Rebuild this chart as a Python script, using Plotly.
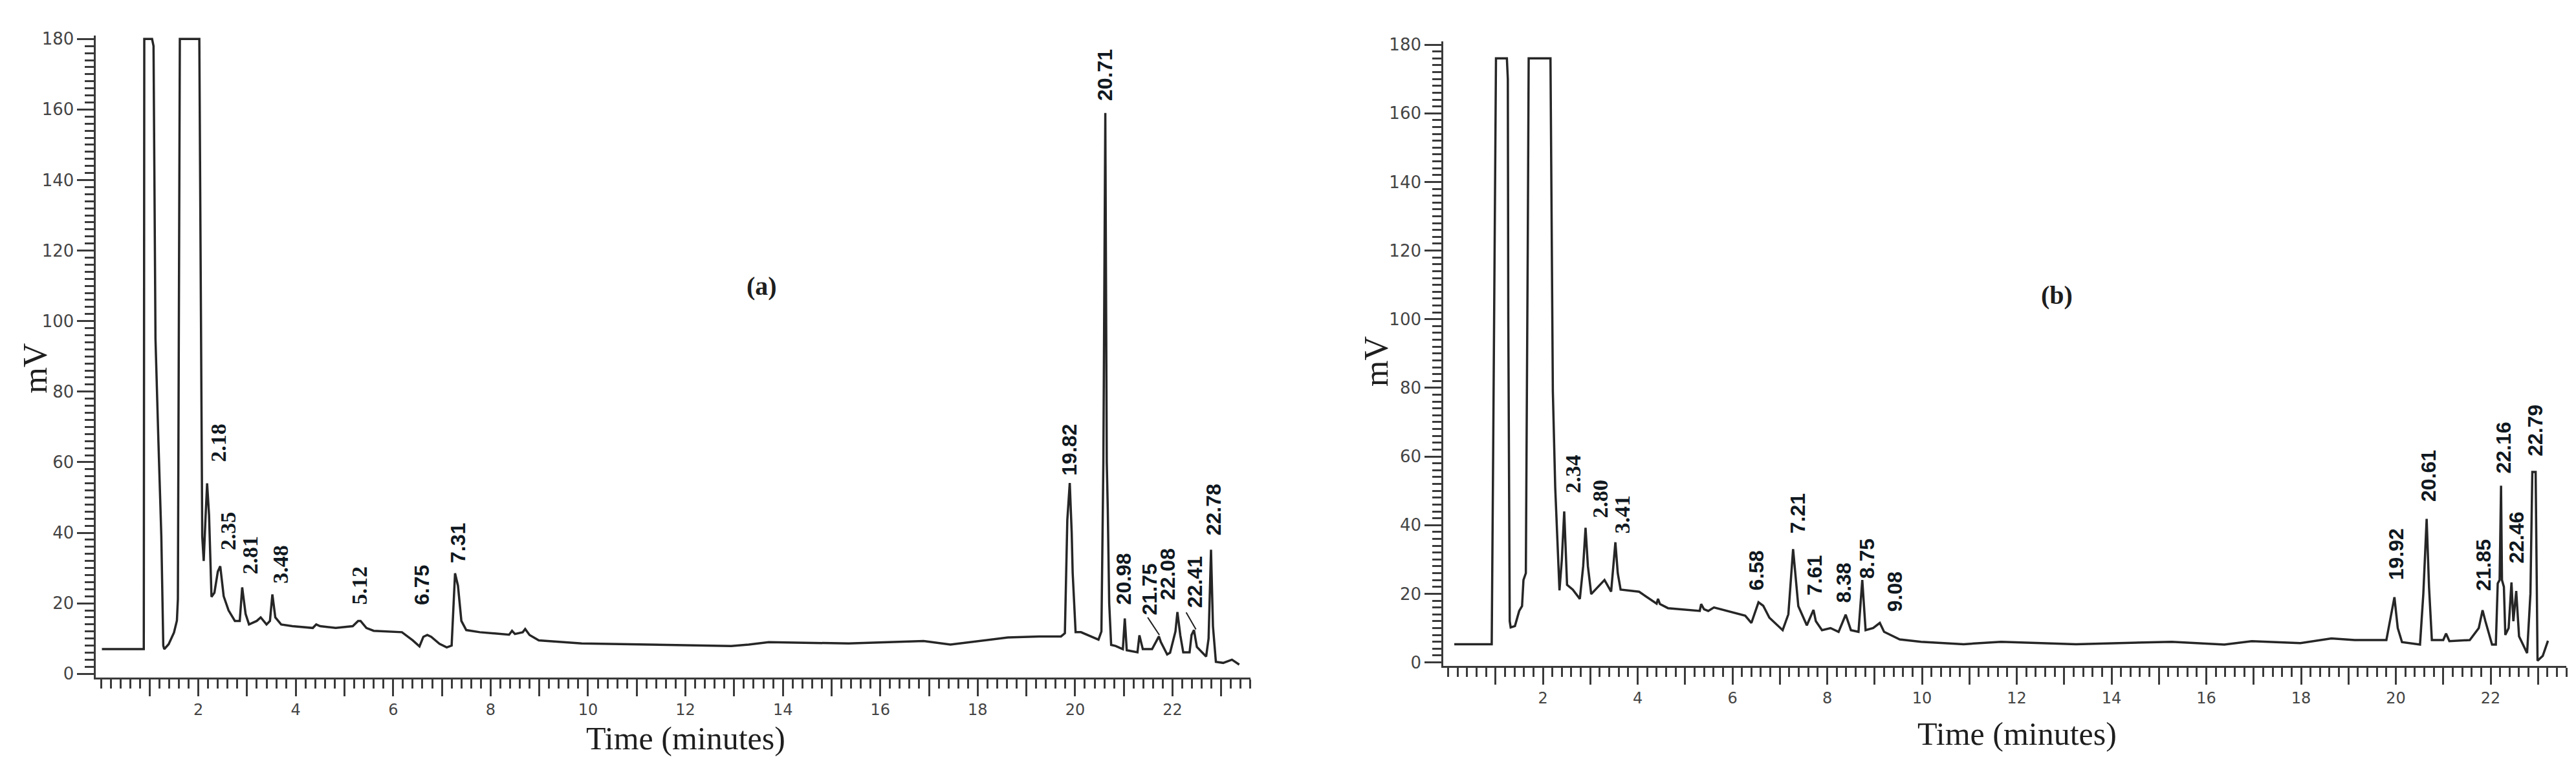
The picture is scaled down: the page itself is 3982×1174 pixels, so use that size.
import plotly.graph_objects as go

# chromatogram (a): retention time (min) and signal (mV)
time_a = [0.02, 0.88, 0.89, 1.05, 1.08, 1.12, 1.18, 1.24, 1.28, 1.30, 1.39, 1.50,
          1.56, 1.58, 1.62, 2.02, 2.08, 2.11, 2.15, 2.18, 2.22, 2.27, 2.33, 2.40,
          2.45, 2.52, 2.62, 2.75, 2.85, 2.90, 2.97, 3.04, 3.20, 3.28, 3.40, 3.47,
          3.52, 3.58, 3.70, 3.93, 4.35, 4.42, 4.50, 4.82, 5.17, 5.28, 5.33, 5.45,
          5.60, 6.18, 6.40, 6.54, 6.62, 6.70, 6.78, 6.95, 7.10, 7.20, 7.27, 7.33,
          7.40, 7.50, 7.78, 8.38, 8.44, 8.50, 8.66, 8.71, 8.80, 8.99, 9.87, 10.96,
          12.94, 13.30, 13.71, 15.35, 16.89, 17.44, 18.00, 18.62, 19.26, 19.71, 19.79, 19.84,
          19.89, 19.93, 19.95, 20.01, 20.12, 20.48, 20.54, 20.58, 20.62, 20.65, 20.67, 20.70,
          20.74, 20.83, 20.98, 21.02, 21.06, 21.28, 21.32, 21.39, 21.58, 21.72, 21.76, 21.89,
          21.95, 22.06, 22.10, 22.16, 22.22, 22.35, 22.39, 22.44, 22.50, 22.69, 22.74, 22.79,
          22.83, 22.89, 23.04, 23.22, 23.37]
mv_a = [7.0, 7.0, 180, 180, 178, 95, 66, 39, 8, 7.0, 8.4, 11.7,
        15.1, 21.2, 180, 180, 39, 32, 45, 54, 45, 21.8, 23, 29,
        30.5, 22, 18, 15, 15, 24.5, 17, 14, 15, 16, 14, 15,
        22.5, 16, 14, 13.5, 13, 14, 13.5, 13, 13.5, 15, 15, 13,
        12.2, 11.8, 9.5, 7.8, 10.5, 11, 10.5, 8.5, 7.5, 8, 28.5, 25,
        15, 12.4, 11.8, 11.1, 12.2, 11.3, 11.8, 12.7, 11, 9.5, 8.6, 8.3,
        7.9, 8.3, 9.0, 8.6, 9.3, 8.3, 9.3, 10.3, 10.6, 10.6, 11.5, 43.6,
        54.1, 40, 28.6, 11.8, 11.8, 9.7, 12, 60, 159, 60, 47, 20,
        8.2, 7.9, 7.0, 15.7, 6.7, 6.1, 10.9, 7.0, 7.0, 10.6, 9, 5.5,
        6, 12, 17.5, 10.9, 6.1, 6.1, 11, 12.4, 7.6, 4.9, 10, 35.2,
        13.5, 3.4, 3.1, 4.0, 2.6]

# chromatogram (b)
time_b = [0.13, 0.92, 0.95, 1.01, 1.24, 1.26, 1.27, 1.29, 1.30, 1.32, 1.41, 1.50,
          1.56, 1.59, 1.64, 1.68, 1.70, 2.16, 2.18, 2.21, 2.26, 2.32, 2.35, 2.40,
          2.45, 2.51, 2.63, 2.78, 2.85, 2.90, 2.95, 3.02, 3.17, 3.30, 3.44, 3.50,
          3.53, 3.58, 3.64, 4.03, 4.40, 4.43, 4.47, 4.64, 5.31, 5.34, 5.40, 5.49,
          5.61, 6.27, 6.40, 6.55, 6.65, 6.78, 7.06, 7.18, 7.28, 7.39, 7.57, 7.71,
          7.76, 7.89, 8.07, 8.24, 8.39, 8.50, 8.66, 8.74, 8.81, 8.97, 9.11, 9.20,
          9.53, 9.98, 10.88, 11.67, 13.25, 15.27, 16.38, 16.96, 17.98, 18.64, 19.13, 19.80,
          19.90, 19.97, 20.04, 20.13, 20.51, 20.58, 20.65, 20.70, 20.76, 21.00, 21.06, 21.13,
          21.56, 21.61, 21.75, 21.83, 21.89, 22.03, 22.11, 22.15, 22.19, 22.22, 22.24, 22.28,
          22.31, 22.38, 22.44, 22.48, 22.54, 22.60, 22.77, 22.84, 22.88, 22.95, 22.98, 22.99,
          23.10, 23.21]
mv_b = [5.3, 5.3, 60, 176, 176, 170, 100, 40, 12, 10.2, 10.6, 15,
        16.4, 24, 26, 120, 176, 176, 126, 79, 51, 30, 21, 30,
        44, 22.6, 21.2, 18.5, 28, 39.2, 28, 19.9, 22, 24, 20.6, 30,
        35, 26, 21.2, 20.6, 17.1, 18.5, 17, 15.8, 15, 17, 15.5, 15,
        16, 13.6, 11.5, 17.5, 16.5, 13, 9.4, 14, 33, 16.4, 10.8, 15.3,
        12, 9.4, 10, 8.9, 13.9, 9.4, 8.9, 24, 9.4, 10, 11.5, 8.9,
        6.7, 6.0, 5.3, 6.0, 5.3, 6.0, 5.2, 6.2, 5.6, 7.0, 6.5, 6.5,
        14, 19, 10, 5.9, 5.2, 20, 41.8, 22, 6.5, 6.5, 8.4, 6.2,
        6.5, 7.4, 10, 15.2, 12, 5.2, 5.2, 23, 24, 51.5, 24, 22,
        8, 10, 23.3, 12, 20.8, 7.6, 2.7, 20, 55.5, 55.5, 20, 0.5,
        1.9, 6.3]

# peak labels (retention times) and where they sit on the plot
labels_a = ["2.18", "2.35", "2.81", "3.48", "5.12", "6.75", "7.31", "19.82", "20.71",
            "20.98", "21.75", "22.08", "22.41", "22.78"]
lab_t_a = [2.40, 2.62, 3.06, 3.69, 5.30, 6.58, 7.33, 19.88, 20.62, 20.99, 21.53, 21.91, 22.45, 22.84]
lab_v_a = [59.6, 34.7, 27.9, 25.2, 19.2, 19.2, 31, 55.8, 162, 19.3, 16.3, 20.5, 18.4, 38.8]
serif_a = 5

labels_b = ["2.34", "2.80", "3.41", "6.58", "7.21", "7.61", "8.38", "8.75", "9.08", "19.92",
            "20.61", "21.85", "22.16", "22.46", "22.79"]
lab_t_b = [2.64, 3.21, 3.67, 6.50, 7.38, 7.73, 8.35, 8.84, 9.42, 20.0, 20.68, 21.84, 22.27, 22.55, 22.95]
lab_v_b = [48.9, 41.6, 37.2, 20.5, 37.2, 19.1, 17.0, 24.0, 14.3, 23.5, 46.5, 20.5, 54.6, 28.5, 59.6]
serif_b = 3

# leader lines in (a): label foot -> peak
lead_from_a = [(21.49, 16.0), (22.28, 17.4)]
lead_to_a = [(21.73, 11.0), (22.48, 12.6)]

x_ticks = list(range(1, 24))
x_tick_text = [str(t) if t % 2 == 0 else "" for t in x_ticks]
y_ticks = list(range(0, 181, 20))

AX = "#3a3a3a"
TRACE = "#262626"
SERIF = "Liberation Serif, Times New Roman, serif"
SANS = "Liberation Sans, Arial, sans-serif"


def x_axis(domain, anchor):
    return dict(
        domain=domain, anchor=anchor, range=[-0.1, 23.6],
        showline=True, linecolor=AX, linewidth=3,
        ticks="outside", ticklen=26, tickwidth=3, tickcolor=AX,
        tickvals=x_ticks, ticktext=x_tick_text,
        tickfont=dict(family="DejaVu Sans", size=24, color="#444444"),
        minor=dict(dtick=0.2, tick0=0, ticks="outside", ticklen=14, tickwidth=2.5, tickcolor=AX),
        showgrid=False, zeroline=False,
    )


def y_axis(domain, anchor):
    return dict(
        domain=domain, anchor=anchor, range=[-1, 181],
        showline=True, linecolor=AX, linewidth=3,
        ticks="outside", ticklen=26, tickwidth=3, tickcolor=AX,
        tickvals=y_ticks,
        tickfont=dict(family="DejaVu Sans", size=26, color="#444444"),
        minor=dict(dtick=2, tick0=0, ticks="outside", ticklen=14, tickwidth=2.5, tickcolor=AX),
        showgrid=False, zeroline=False,
    )


def peak_labels(labels, ts, vs, n_serif, xref, yref):
    out = []
    for i, (txt, t, v) in enumerate(zip(labels, ts, vs)):
        fam = SERIF if i < n_serif else SANS
        size = 34 if i < n_serif else 32
        out.append(dict(
            x=t, y=v, xref=xref, yref=yref, text="<b>%s</b>" % txt,
            textangle=-90, xanchor="center", yanchor="bottom", showarrow=False,
            font=dict(family=fam, size=size, color="#101820"),
        ))
    return out


fig = go.Figure()
fig.add_trace(go.Scatter(x=time_a, y=mv_a, mode="lines", line=dict(color=TRACE, width=3.5),
                         xaxis="x", yaxis="y", showlegend=False, hoverinfo="skip"))
fig.add_trace(go.Scatter(x=time_b, y=mv_b, mode="lines", line=dict(color=TRACE, width=3.5),
                         xaxis="x2", yaxis="y2", showlegend=False, hoverinfo="skip"))

annotations = peak_labels(labels_a, lab_t_a, lab_v_a, serif_a, "x", "y")
annotations += peak_labels(labels_b, lab_t_b, lab_v_b, serif_b, "x2", "y2")

title_font = dict(family=SERIF, size=50, color="#1e1e1e")
annotations += [
    dict(x=0.0118, y=0.522, xref="paper", yref="paper", text="mV", textangle=-90,
         showarrow=False, font=dict(family=SERIF, size=52, color="#1e1e1e"),
         xanchor="center", yanchor="middle"),
    dict(x=0.5321, y=0.531, xref="paper", yref="paper", text="mV", textangle=-90,
         showarrow=False, font=dict(family=SERIF, size=52, color="#1e1e1e"),
         xanchor="center", yanchor="middle"),
    dict(x=12.0, y=0.0, xref="x", yref="paper", text="Time (minutes)",
         showarrow=False, font=title_font, xanchor="center", yanchor="bottom"),
    dict(x=12.0, y=0.006, xref="x2", yref="paper", text="Time (minutes)",
         showarrow=False, font=title_font, xanchor="center", yanchor="bottom"),
    dict(x=13.57, y=110, xref="x", yref="y", text="<b>(a)</b>", showarrow=False,
         font=dict(family=SERIF, size=40, color="#1e1e1e")),
    dict(x=12.85, y=107, xref="x2", yref="y2", text="<b>(b)</b>", showarrow=False,
         font=dict(family=SERIF, size=40, color="#1e1e1e")),
]

shapes = [dict(type="line", xref="x", yref="y", x0=a[0], y0=a[1], x1=b[0], y1=b[1],
               line=dict(color="#202020", width=2))
          for a, b in zip(lead_from_a, lead_to_a)]

fig.update_layout(
    width=3982, height=1174,
    margin=dict(l=0, r=0, t=0, b=0),
    paper_bgcolor="white", plot_bgcolor="white",
    xaxis=x_axis([0.03528, 0.48342], "y"),
    yaxis=y_axis([0.10771, 0.9681], "x"),
    xaxis2=x_axis([0.55831, 0.99428], "y2"),
    yaxis2=y_axis([0.12317, 0.96031], "x2"),
    annotations=annotations,
    shapes=shapes,
)

fig.write_html("out.html")
